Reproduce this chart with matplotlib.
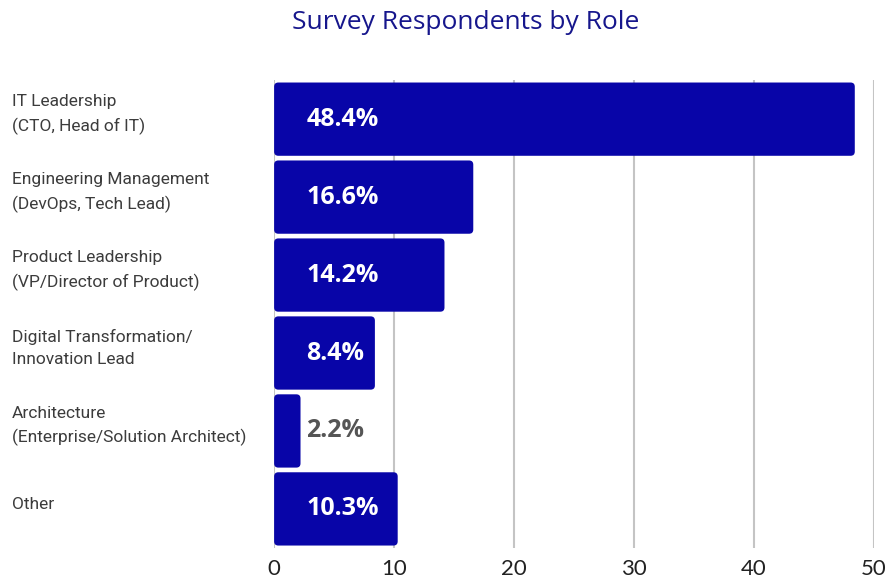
import matplotlib.pyplot as plt
from matplotlib.patches import FancyBboxPatch

roles = [
    'IT Leadership\n(CTO, Head of IT)',
    'Engineering Management\n(DevOps, Tech Lead)',
    'Product Leadership\n(VP/Director of Product)',
    'Digital Transformation/\nInnovation Lead',
    'Architecture\n(Enterprise/Solution Architect)',
    'Other',
]
shares = [48.4, 16.6, 14.2, 8.4, 2.2, 10.3]
xticks = [0, 10, 20, 30, 40, 50]

bar_color = '#0805a8'
title_color = '#16168c'

fig = plt.figure(figsize=(8.9, 5.81), dpi=100)
ax = fig.add_axes([0.308, 0.057, 0.674, 0.805])

ypos = list(range(len(roles)))
bars = ax.barh(ypos, shares, height=0.94, color=bar_color)

# swap the plain rectangles for rounded ones
px_per_x = 0.674 * 890 / 50
px_per_y = 0.805 * 581 / 6
for b in bars:
    x0, y0 = b.get_x(), b.get_y()
    w, h = b.get_width(), b.get_height()
    b.set_visible(False)
    ax.add_patch(FancyBboxPatch((x0, y0), w, h,
                                boxstyle='round,pad=0,rounding_size=0.35',
                                mutation_aspect=px_per_x / px_per_y,
                                facecolor=bar_color, edgecolor='none', zorder=3))

for y, v in zip(ypos, shares):
    col = 'white' if v > 5 else '#555555'
    ax.text(2.7, y, f'{v}%', va='center', ha='left', color=col,
            fontsize=18, fontweight='bold', family='Open Sans', zorder=4)

ax.set_xlim(0, 50)
ax.set_ylim(5.5, -0.5)
ax.set_xticks(xticks)
ax.set_xticklabels([str(t) for t in xticks], fontsize=16, family='Lato', color='#222222')
ax.set_yticks([])
ax.tick_params(axis='x', length=0, pad=8)
ax.grid(axis='x', color='#c4c4c4', linewidth=1.5, zorder=0)
ax.set_axisbelow(True)
for s in ax.spines.values():
    s.set_visible(False)

# category labels sit at the left edge of the figure
for y, r in zip(ypos, roles):
    yf = ax.transData.transform((0, y))[1]
    fig.text(12 / 890, yf / (5.81 * 100) + 0.008, r, ha='left', va='center',
             fontsize=12.5, family='Roboto', color='#3c3c3c', linespacing=1.6)

fig.text(0.523, 0.962, 'Survey Respondents by Role', ha='center', va='center',
         fontsize=19, family='Open Sans', color=title_color)

fig.savefig('out.png', dpi=100)
